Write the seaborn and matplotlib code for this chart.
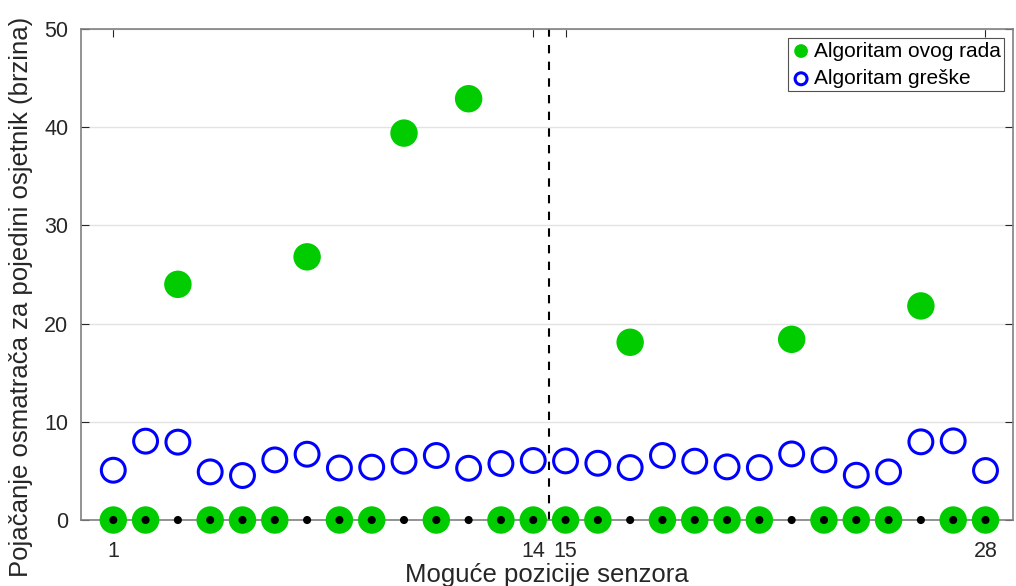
import numpy as np
import pandas as pd
import matplotlib
matplotlib.use("Agg")
import matplotlib.pyplot as plt
import seaborn as sns

positions = list(range(1, 29))
ovog_rada = [0, 0, 24.0, 0, 0, 0, 26.8, 0, 0, 39.4, 0, 42.9, 0, 0,
             0, 0, 18.1, 0, 0, 0, 0, 18.4, 0, 0, 0, 21.8, 0, 0]
greske = [5.07, 8.03, 7.93, 4.9, 4.53, 6.12, 6.7, 5.3, 5.38, 5.99, 6.57, 5.27, 5.75, 6.06,
          6.02, 5.78, 5.34, 6.57, 5.99, 5.41, 5.34, 6.73, 6.12, 4.56, 4.9, 7.96, 8.06, 5.04]
baseline = [0] * 28
xticks = [1, 14, 15, 28]
yticks = [0, 10, 20, 30, 40, 50]

sns.set_theme(style="white")
plt.rcParams['font.family'] = ['Liberation Sans', 'DejaVu Sans']

df = pd.DataFrame({"pos": positions, "ovog": ovog_rada, "greske": greske, "base": baseline})

fig = plt.figure(figsize=(10.16, 5.86), dpi=100)
ax = fig.add_axes([0.0797, 0.1126, 0.9173, 0.8379])

ax.grid(axis="y", color="#e3e3e3", linewidth=1)
ax.set_axisbelow(True)

sns.scatterplot(data=df, x="pos", y="ovog", ax=ax, s=390, color="#00cc00",
                edgecolor="none", clip_on=False, zorder=3, label="Algoritam ovog rada")
sns.scatterplot(data=df, x="pos", y="greske", ax=ax, s=295, facecolor="none",
                edgecolor="#0000ff", linewidth=2.2, clip_on=False, zorder=3,
                label="Algoritam greške")
sns.scatterplot(data=df, x="pos", y="base", ax=ax, s=34, color="black",
                edgecolor="none", clip_on=False, zorder=4, legend=False)

ax.axvline(14.5, color="black", linestyle=(0, (4, 4)), linewidth=1.5, zorder=2)

ax.set_xlim(0, 28.85)
ax.set_ylim(0, 50)
ax.set_xticks(xticks)
ax.set_yticks(yticks)
ax.tick_params(axis="both", labelsize=15.5, colors="#262626", direction="in", length=6,
               top=True, right=True, bottom=False, left=True, width=0.8, pad=9)
ax.tick_params(axis="x", pad=15)
for side in ["left", "bottom", "top", "right"]:
    ax.spines[side].set_color("#808080")
    ax.spines[side].set_linewidth(1.2)

ax.set_xlabel("Moguće pozicije senzora", fontsize=18.5, color="#262626")
ax.set_ylabel("Pojačanje osmatrača za pojedini osjetnik (brzina)", fontsize=18.5,
              color="#262626")
ax.xaxis.set_label_coords(0.5, -0.088)
ax.yaxis.set_label_coords(-0.051, 0.455)

leg = ax.legend(loc="upper right", fontsize=15, frameon=True, fancybox=False,
                edgecolor="#262626", handletextpad=0.1, borderpad=0.15,
                borderaxespad=0.45, markerscale=0.5, labelspacing=0.42,
                handlelength=1.0)
leg.get_frame().set_linewidth(0.8)
for t in leg.get_texts():
    t.set_color("black")

fig.savefig("out.png", dpi=100)
